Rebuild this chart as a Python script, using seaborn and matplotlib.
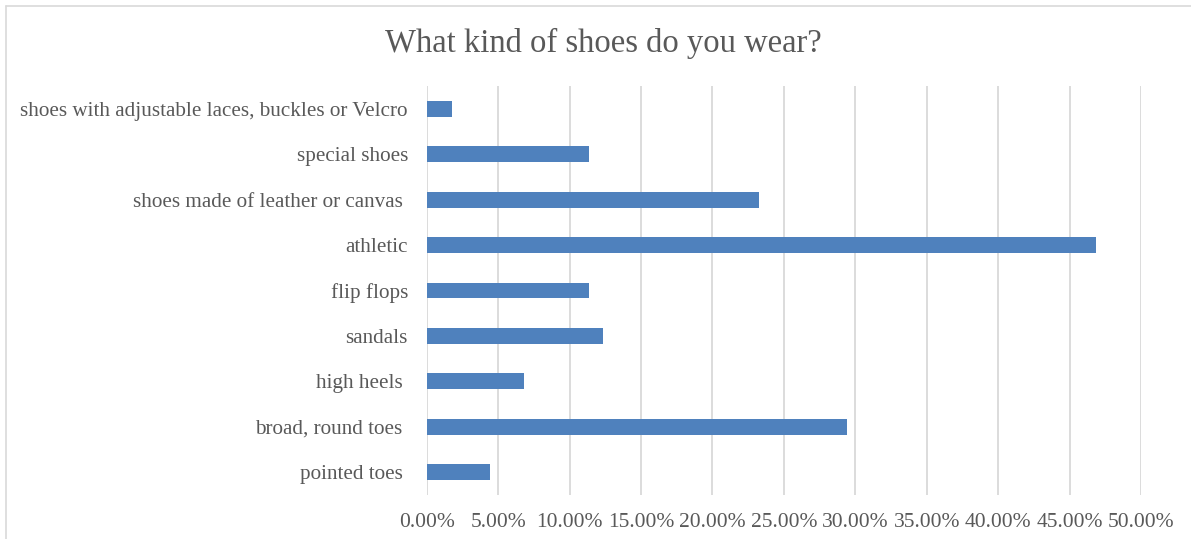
import matplotlib
matplotlib.use("Agg")
import matplotlib.pyplot as plt
from matplotlib.lines import Line2D
from matplotlib.ticker import FuncFormatter, MultipleLocator
import seaborn as sns
import pandas as pd

# Survey answers, listed top to bottom
categories = [
    "shoes with adjustable laces, buckles or Velcro",
    "special shoes",
    "shoes made of leather or canvas ",
    "athletic",
    "flip flops",
    "sandals",
    "high heels ",
    "broad, round toes ",
    "pointed toes ",
]
shares = [0.0178, 0.1136, 0.2323, 0.4687, 0.1136, 0.1234, 0.0682, 0.2945, 0.0444]

title = "What kind of shoes do you wear?"

df = pd.DataFrame({"category": categories, "share": shares})

sns.set_theme(style="white")
plt.rcParams["font.family"] = ["Liberation Serif", "DejaVu Serif"]

text_color = "#595959"
bar_color = "#4F81BD"
grid_color = "#D9D9D9"

fig = plt.figure(figsize=(11.91, 5.39), dpi=100)
W, H = 1191, 539
ax = fig.add_axes([426.7 / W, 1 - 495 / H, (1141 - 426.7) / W, (495 - 86) / H])

sns.barplot(data=df, x="share", y="category", order=categories,
            color=bar_color, saturation=1, width=0.35, ax=ax,
            edgecolor="none")

ax.set_xlim(0, 0.5)
ax.set_ylim(len(categories) - 0.5, -0.5)
ax.xaxis.set_major_locator(MultipleLocator(0.05))
ax.xaxis.set_major_formatter(FuncFormatter(lambda v, _: f"{v * 100:.2f}%"))
ax.grid(axis="x", color=grid_color, linewidth=1.3)
ax.set_axisbelow(True)
for s in ax.spines.values():
    s.set_visible(False)
ax.set_xlabel("")
ax.set_ylabel("")
ax.tick_params(axis="x", length=0, pad=13, labelsize=15.5, labelcolor=text_color)
ax.tick_params(axis="y", length=0, pad=13.5, labelsize=15.2, labelcolor=text_color)

fig.text(603 / W, 1 - 43 / H, title, ha="center", va="center",
         fontsize=23.5, color=text_color)

# light chart-area frame on the top and left
fig.add_artist(Line2D([5.5 / W, 5.5 / W], [0, 1 - 5.5 / H], transform=fig.transFigure,
                      color=grid_color, linewidth=1.2))
fig.add_artist(Line2D([5.5 / W, 1], [1 - 5.5 / H, 1 - 5.5 / H], transform=fig.transFigure,
                      color=grid_color, linewidth=1.2))

fig.savefig("out.png", dpi=100, facecolor="white")
